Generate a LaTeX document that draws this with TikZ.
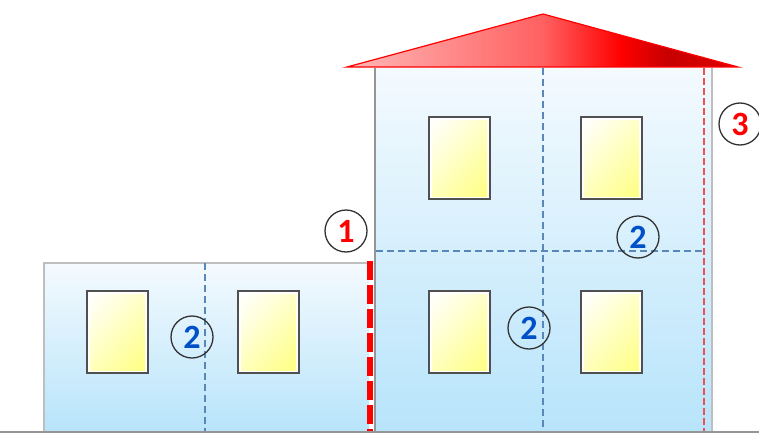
\documentclass[tikz,border=0pt]{standalone}
\usepackage{fontspec}
\setmainfont{Carlito}
\usetikzlibrary{shadings}

\definecolor{wallTop}{RGB}{244,250,254}
\definecolor{wallBot}{RGB}{184,228,251}
\definecolor{edgeGray}{RGB}{150,150,150}
\definecolor{edgeLight}{RGB}{190,190,190}
\definecolor{gridBlue}{RGB}{90,135,185}
\definecolor{markRed}{RGB}{255,0,0}
\definecolor{lineRed}{RGB}{240,80,80}
\definecolor{numBlue}{RGB}{0,80,200}
\definecolor{frameGray}{RGB}{80,80,80}
\definecolor{glassYellow}{RGB}{255,255,130}

% roof colour ramp, from pale pink at the left eave to deep red near the right
\pgfdeclarehorizontalshading{rooframp}{100bp}{%
  color(0bp)=(red!28!white); color(25bp)=(red!28!white);
  color(50bp)=(red!62!white); color(60bp)=(red);
  color(66bp)=(red!78!black); color(75bp)=(red!88!black);
  color(100bp)=(red!88!black)}

\tikzset{
  wall/.style={top color=wallTop, bottom color=wallBot, draw=none},
  gridline/.style={draw=gridBlue, line width=1.2pt, dash pattern=on 7pt off 4pt},
  jointthick/.style={draw=markRed, line width=6pt, dash pattern=on 19pt off 5pt},
  jointthin/.style={draw=lineRed, line width=2pt, dash pattern=on 7pt off 3pt},
  pane/.style={fill=white, draw=frameGray, line width=2.2pt},
  glass/.style={upper left=white, upper right=glassYellow!45!white,
    lower left=glassYellow!55!white, lower right=glassYellow},
  tag/.style={circle, draw=black!80, line width=1.3pt, minimum size=42pt,
    inner sep=0pt, font=\fontsize{34}{34}\selectfont\bfseries},
}

\newcommand{\housewindow}[3]{%
  \node[pane, minimum width=61pt, minimum height=82pt, anchor=north west, inner sep=0pt] (#1) at (#2,#3) {};
  \shade[glass] ([xshift=4pt,yshift=-4pt]#1.north west) rectangle ([xshift=-4pt,yshift=4pt]#1.south east);
}

\begin{document}
\begin{tikzpicture}[x=1pt,y=-1pt]
  \useasboundingbox (0,0) rectangle (759,433);

  % walls
  \shade[wall] (44,263) rectangle (369,431);
  \shade[wall] (375,68) rectangle (712,431);

  % outline of the lower wing
  \draw[edgeLight, line width=1.2pt] (44,431) -- (44,263) -- (369,263);
  % outline of the tall block
  \draw[edgeGray, line width=1.6pt] (375,68) -- (375,431);
  \draw[edgeLight, line width=1.4pt] (712,68) -- (712,431);

  % roof
  \coordinate (eaveL) at (347,67);
  \coordinate (ridge) at (543,14);
  \coordinate (eaveR) at (738,67);
  \shade[shading=rooframp, draw=markRed, line width=1.2pt] (eaveL) -- (ridge) -- (eaveR) -- cycle;

  % module grid
  \coordinate (gA) at (205,263); \coordinate (gB) at (205,431);
  \coordinate (gC) at (543,68);  \coordinate (gD) at (543,431);
  \coordinate (gE) at (376,251); \coordinate (gF) at (704,251);
  \draw[gridline] (gA) -- (gB);
  \draw[gridline] (gC) -- (gD);
  \draw[gridline] (gE) -- (gF);

  % joints
  \coordinate (j1a) at (369.5,261); \coordinate (j1b) at (369.5,431);
  \coordinate (j3a) at (704,68);    \coordinate (j3b) at (704,431);
  \draw[jointthick] (j1a) -- (j1b);
  \draw[jointthin] (j3a) -- (j3b);

  % windows
  \housewindow{wl1}{86}{290}
  \housewindow{wl2}{237}{290}
  \housewindow{wu1}{428}{116}
  \housewindow{wu2}{580}{116}
  \housewindow{wd1}{428}{290}
  \housewindow{wd2}{580}{290}

  % ground
  \coordinate (g0) at (0,432); \coordinate (g1) at (759,432);
  \draw[edgeGray, line width=1.4pt] (g0) -- (g1);

  % labels
  \node[tag, text=markRed] (t1) at (346,231) {1};
  \node[tag, text=markRed] (t3) at (740,124) {3};
  \node[tag, text=numBlue] (t2a) at (192,337) {2};
  \node[tag, text=numBlue] (t2b) at (529,328) {2};
  \node[tag, text=numBlue] (t2c) at (638,237) {2};
\end{tikzpicture}
\end{document}
